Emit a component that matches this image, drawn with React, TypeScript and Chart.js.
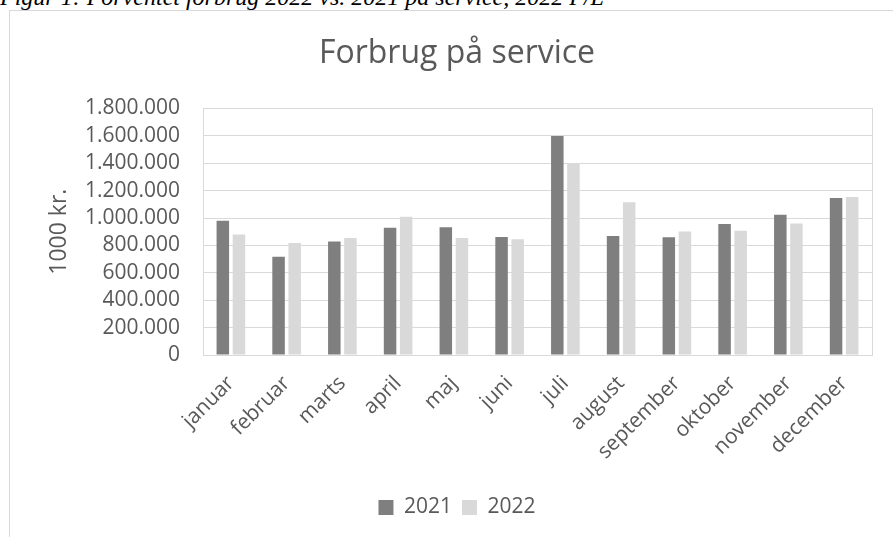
import React, { useEffect, useRef } from "react";
import { Chart, registerables } from "chart.js";

Chart.register(...registerables);

const months = [
  "januar", "februar", "marts", "april", "maj", "juni",
  "juli", "august", "september", "oktober", "november", "december",
];
const values2021 = [980000, 717000, 829000, 929000, 932000, 861000, 1598000, 868000, 859000, 956000, 1024000, 1146000];
const values2022 = [880000, 817000, 854000, 1010000, 854000, 844000, 1402000, 1115000, 902000, 907000, 959000, 1154000];
const seriesLabels = ["2021", "2022"];
const chartTitle = "Forbrug på service";
const yAxisTitle = "1000 kr.";
const caption = "Figur 1: Forventet forbrug 2022 vs. 2021 på service, 2022 P/L";

const FONT = "'Open Sans', sans-serif";
const TEXT = "#595959";

const fmt = (v: number) => String(Math.round(v)).replace(/\B(?=(\d{3})+(?!\d))/g, ".");

const plotBorder = {
  id: "plotBorder",
  afterDraw(chart: any) {
    const { ctx, chartArea } = chart;
    ctx.save();
    ctx.strokeStyle = "#d9d9d9";
    ctx.lineWidth = 1;
    ctx.strokeRect(
      Math.round(chartArea.left) + 0.5,
      Math.round(chartArea.top) + 0.5,
      Math.round(chartArea.right - chartArea.left),
      Math.round(chartArea.bottom - chartArea.top)
    );
    ctx.restore();
  },
};

export default function App() {
  const ref = useRef<HTMLCanvasElement>(null);

  useEffect(() => {
    if (!ref.current) return;
    const chart = new Chart(ref.current, {
      type: "bar",
      data: {
        labels: months,
        datasets: [
          {
            label: seriesLabels[0],
            data: values2021,
            backgroundColor: "#7f7f7f",
            borderWidth: 0,
            categoryPercentage: 0.578,
            barPercentage: 0.776,
          },
          {
            label: seriesLabels[1],
            data: values2022,
            backgroundColor: "#d9d9d9",
            borderWidth: 0,
            categoryPercentage: 0.578,
            barPercentage: 0.776,
          },
        ],
      },
      options: {
        responsive: false,
        animation: false,
        layout: { padding: { left: 32, right: 21, top: 0, bottom: 9 } },
        plugins: {
          title: {
            display: true,
            text: chartTitle,
            color: TEXT,
            font: { family: FONT, size: 32, weight: "normal" },
            padding: { top: 24, bottom: 35 },
          },
          legend: {
            position: "bottom",
            labels: {
              color: TEXT,
              font: { family: FONT, size: 21 },
              boxWidth: 15,
              boxHeight: 15,
              padding: 10,
            },
          },
          tooltip: { enabled: false },
        },
        scales: {
          x: {
            grid: { display: false, drawTicks: false },
            border: { display: true, color: "#d9d9d9" },
            ticks: {
              color: TEXT,
              font: { family: FONT, size: 21 },
              minRotation: 45,
              maxRotation: 45,
              padding: 16,
              autoSkip: false,
            },
            afterFit: (scale: any) => {
              scale.height = 132;
            },
          },
          y: {
            min: 0,
            max: 1800000,
            grid: { color: "#d9d9d9", drawTicks: false },
            border: { display: true, color: "#d9d9d9" },
            ticks: {
              stepSize: 200000,
              autoSkip: false,
              color: TEXT,
              font: { family: FONT, size: 21 },
              padding: 23,
              callback: (v: any) => fmt(Number(v)),
            },
            title: {
              display: true,
              text: yAxisTitle,
              color: TEXT,
              font: { family: FONT, size: 23 },
              padding: { top: 4, bottom: 4 },
            },
            afterFit: (scale: any) => {
              scale.width = 161;
            },
          },
        },
      },
      plugins: [plotBorder],
    });
    return () => chart.destroy();
  }, []);

  return (
    <div
      style={{
        position: "absolute",
        left: 0,
        top: 0,
        width: 893,
        height: 537,
        overflow: "hidden",
        background: "#fff",
      }}
    >
      <div
        style={{
          position: "absolute",
          left: 0,
          top: -15,
          font: "italic 24px 'Liberation Serif', serif",
          lineHeight: "24px",
          whiteSpace: "nowrap",
          color: "#000",
        }}
      >
        {caption}
      </div>
      <div
        style={{
          position: "absolute",
          left: 9,
          top: 10,
          width: 900,
          height: 540,
          border: "1px solid #d9d9d9",
          boxSizing: "border-box",
          background: "#fff",
        }}
      />
      <canvas
        ref={ref}
        width={883}
        height={526}
        style={{ position: "absolute", left: 10, top: 11, width: 883, height: 526 }}
      />
    </div>
  );
}
